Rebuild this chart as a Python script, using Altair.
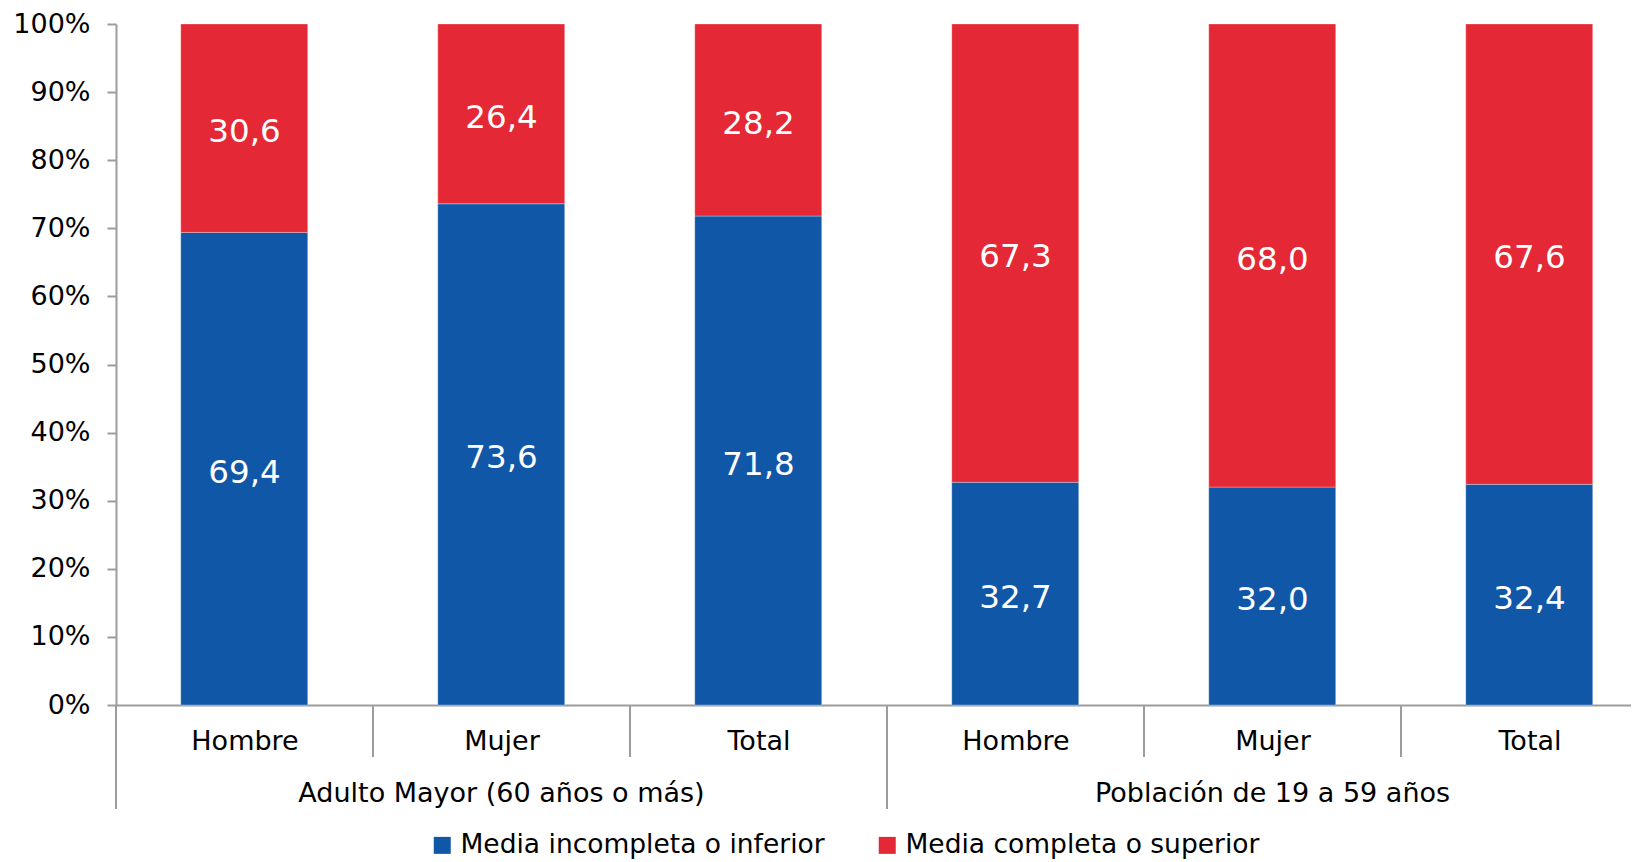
import altair as alt
import pandas as pd

groups = ["Adulto Mayor (60 años o más)", "Población de 19 a 59 años"]
sexes = ["Hombre", "Mujer", "Total", "Hombre", "Mujer", "Total"]
series = ["Media incompleta o inferior", "Media completa o superior"]
media_incompleta = [69.4, 73.6, 71.8, 32.7, 32.0, 32.4]
media_completa = [30.6, 26.4, 28.2, 67.3, 68.0, 67.6]
y_ticks = [0, 10, 20, 30, 40, 50, 60, 70, 80, 90, 100]

BLUE = "#1157A8"
RED = "#E52836"
GRAY = "#9c9c9c"
FONT = "DejaVu Sans"

SLOT = 257.0
W = 1515
H = 681
XMAX = W / SLOT
BAR_L, BAR_R = 0.252, 0.746

rows = []
for i, (a, b) in enumerate(zip(media_incompleta, media_completa)):
    base = 0.0
    for s, v in ((series[0], a), (series[1], b)):
        rows.append(dict(idx=i, sexo=sexes[i], serie=s, value=v,
                         x0=i + BAR_L, x1=i + BAR_R, xc=i + 0.5,
                         y0=base, y1=base + v, ym=base + v / 2,
                         label=f"{v:.1f}".replace(".", ",")))
        base += v
df = pd.DataFrame(rows)

xscale = alt.Scale(domain=[0, XMAX], nice=False, zero=False)
yscale = alt.Scale(domain=[0, 100], nice=False)
label_arr = "[" + ",".join(f"'{s}'" for s in sexes) + "]"

bars = alt.Chart(df).mark_bar(stroke="white", strokeWidth=0.6, strokeOpacity=0.5).encode(
    x=alt.X("x0:Q", scale=xscale, title=None,
            axis=alt.Axis(values=[i + 0.5 for i in range(len(sexes))],
                          labelExpr=f"{label_arr}[floor(datum.value)]",
                          tickSize=0, grid=False, domainColor=GRAY, domainWidth=2,
                          labelFontSize=27, labelFont=FONT, labelColor="#000000",
                          labelPadding=23, labelFlush=False, labelOverlap=False)),
    x2="x1:Q",
    y=alt.Y("y0:Q", scale=yscale, title=None,
            axis=alt.Axis(values=y_ticks, labelExpr="datum.value + '%'",
                          grid=False, domainColor=GRAY, domainWidth=2,
                          tickColor=GRAY, tickWidth=2, tickSize=9,
                          labelFontSize=27, labelFont=FONT, labelColor="#000000",
                          labelPadding=17)),
    y2="y1:Q",
    color=alt.Color("serie:N", scale=alt.Scale(domain=series, range=[BLUE, RED]),
                    title=None,
                    legend=alt.Legend(orient="none", direction="horizontal",
                                      legendX=313, legendY=808,
                                      symbolType="square", symbolSize=289,
                                      symbolStrokeWidth=0, labelFontSize=26.5,
                                      labelFont=FONT, labelColor="#000000",
                                      labelOffset=5, columnPadding=49,
                                      padding=0, labelLimit=600)),
)

labels = alt.Chart(df).mark_text(color="white", fontSize=32.5, font=FONT,
                                 baseline="middle", align="center", dy=4).encode(
    x=alt.X("xc:Q", scale=xscale),
    y=alt.Y("ym:Q", scale=yscale),
    text="label:N",
)

short_div = pd.DataFrame({"b": [1, 2, 4, 5]})
long_div = pd.DataFrame({"b": [0, 3]})

rules_short = alt.Chart(short_div).mark_rule(color=GRAY, strokeWidth=2).encode(
    x=alt.X("b:Q", scale=xscale), y=alt.value(H), y2=alt.value(H + 52))
rules_long = alt.Chart(long_div).mark_rule(color=GRAY, strokeWidth=2).encode(
    x=alt.X("b:Q", scale=xscale), y=alt.value(H), y2=alt.value(H + 104))

grp_df = pd.DataFrame({"grupo": groups, "gc": [1.5, 4.5]})
grp_text = alt.Chart(grp_df).mark_text(fontSize=27, font=FONT, color="#000000",
                                       baseline="middle", align="center").encode(
    x=alt.X("gc:Q", scale=xscale), y=alt.value(H + 89), text="grupo:N")

chart = alt.layer(bars, labels, rules_short, rules_long, grp_text).properties(
    width=W, height=H,
    autosize=alt.AutoSizeParams(type="none"),
    padding={"left": 108, "top": 16, "right": 0, "bottom": 156},
).configure(font=FONT).configure_view(stroke=None)

chart.save("out.html", embed_options={"renderer": "svg", "actions": False})
